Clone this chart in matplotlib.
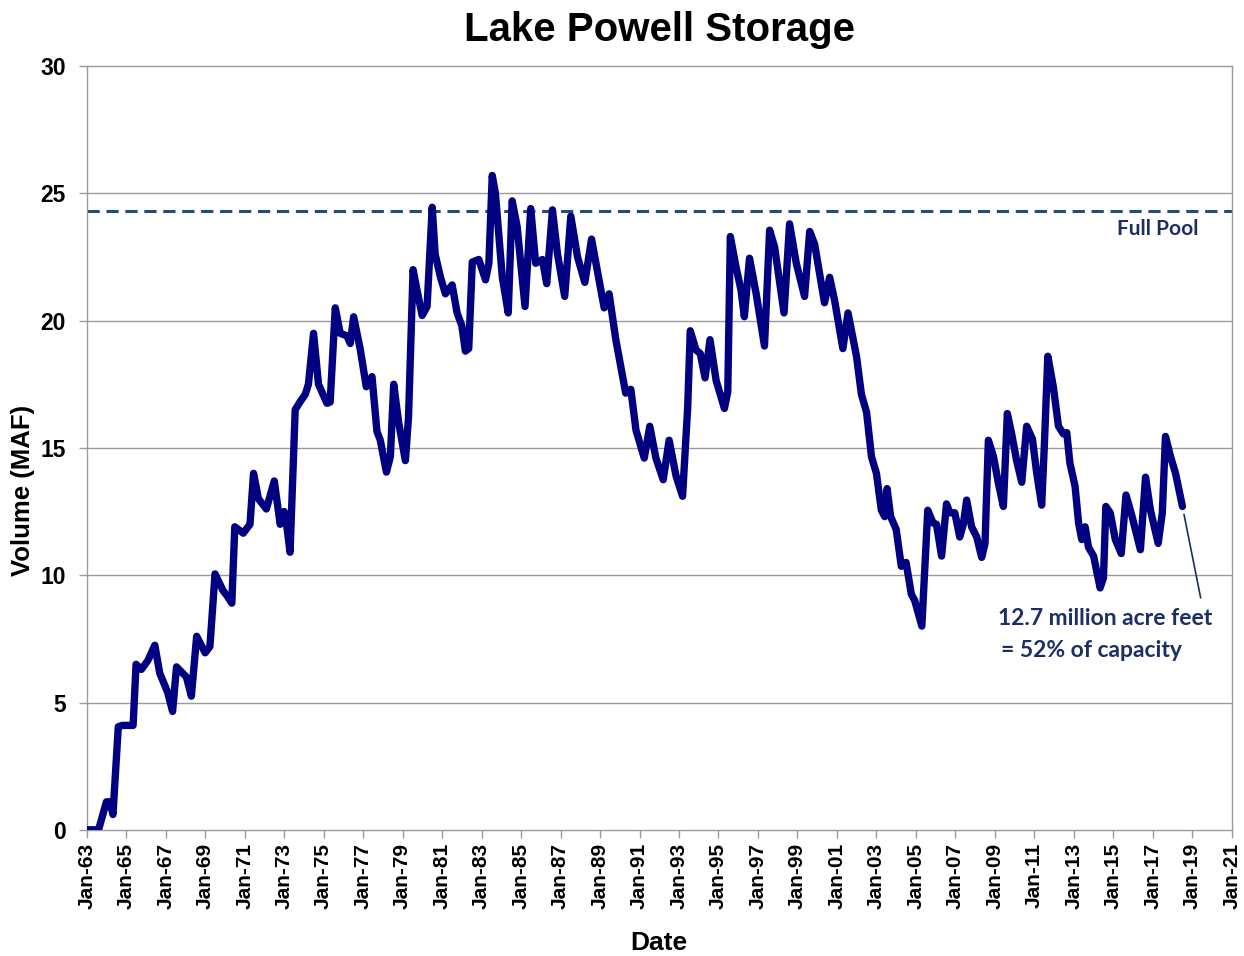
import matplotlib
matplotlib.use("Agg")
import matplotlib.pyplot as plt

# =====================================
# Data
# =====================================

years = [
    1963.0, 1963.6, 1964.0, 1964.17, 1964.33, 1964.6, 1964.8, 1965.35, 1965.5, 1965.77,
    1966.1, 1966.45, 1966.7, 1967.1, 1967.35, 1967.55, 1968.05, 1968.3, 1968.57, 1969.0,
    1969.24, 1969.5, 1969.9, 1970.1, 1970.35, 1970.5, 1970.93, 1971.27, 1971.45, 1971.7,
    1972.1, 1972.5, 1972.8, 1973.0, 1973.14, 1973.3, 1973.56, 1973.8, 1974.07, 1974.23,
    1974.49, 1974.74, 1975.17, 1975.33, 1975.59, 1975.84, 1976.18, 1976.35, 1976.52, 1976.86,
    1977.16, 1977.45, 1977.7, 1977.87, 1978.18, 1978.38, 1978.55, 1978.8, 1979.14, 1979.3,
    1979.53, 1979.73, 1979.99, 1980.24, 1980.5, 1980.65, 1980.92, 1981.17, 1981.51, 1981.76,
    1982.0, 1982.18, 1982.35, 1982.53, 1982.86, 1983.2, 1983.37, 1983.54, 1983.7, 1984.05,
    1984.35, 1984.55, 1984.8, 1985.2, 1985.49, 1985.74, 1986.08, 1986.3, 1986.59, 1986.84,
    1987.21, 1987.52, 1987.86, 1988.23, 1988.57, 1989.21, 1989.46, 1989.8, 1990.3, 1990.56,
    1990.82, 1991.24, 1991.52, 1991.83, 1992.2, 1992.5, 1992.85, 1993.18, 1993.44, 1993.57,
    1993.86, 1994.08, 1994.32, 1994.57, 1994.88, 1995.3, 1995.47, 1995.6, 1995.89, 1996.14,
    1996.31, 1996.57, 1996.91, 1997.33, 1997.59, 1997.84, 1998.32, 1998.6, 1998.94, 1999.36,
    1999.62, 1999.87, 2000.37, 2000.63, 2000.88, 2001.3, 2001.56, 2001.99, 2002.24, 2002.5,
    2002.75, 2003.0, 2003.25, 2003.42, 2003.54, 2003.72, 2004.0, 2004.26, 2004.5, 2004.77,
    2004.94, 2005.3, 2005.6, 2005.87, 2006.04, 2006.3, 2006.55, 2006.72, 2006.97, 2007.22,
    2007.4, 2007.57, 2007.82, 2008.08, 2008.33, 2008.5, 2008.67, 2008.93, 2009.18, 2009.43,
    2009.63, 2009.85, 2010.1, 2010.36, 2010.61, 2010.9, 2011.12, 2011.37, 2011.5, 2011.68,
    2011.96, 2012.22, 2012.47, 2012.64, 2012.8, 2013.06, 2013.24, 2013.4, 2013.57, 2013.74,
    2014.0, 2014.33, 2014.5, 2014.62, 2014.84, 2015.1, 2015.4, 2015.64, 2015.95, 2016.37,
    2016.63, 2016.88, 2017.27, 2017.48, 2017.64, 2017.9, 2018.15, 2018.5,
]

storage = [
    0.0, 0.0, 1.1, 1.1, 0.6, 4.05, 4.1, 4.1, 6.5, 6.3,
    6.65, 7.25, 6.15, 5.4, 4.65, 6.4, 6.0, 5.25, 7.6, 6.95,
    7.2, 10.05, 9.4, 9.2, 8.9, 11.9, 11.65, 12.0, 14.0, 13.0,
    12.6, 13.7, 12.0, 12.5, 11.9, 10.9, 16.5, 16.8, 17.1, 17.5,
    19.5, 17.5, 16.75, 16.8, 20.5, 19.5, 19.4, 19.1, 20.15, 18.85,
    17.4, 17.8, 15.65, 15.3, 14.05, 14.65, 17.5, 16.0, 14.5, 16.2,
    22.0, 21.2, 20.2, 20.55, 24.45, 22.6, 21.7, 21.05, 21.4, 20.3,
    19.8, 18.8, 18.9, 22.3, 22.4, 21.6, 22.25, 25.7, 25.0, 21.7,
    20.3, 24.7, 23.7, 20.55, 24.4, 22.25, 22.4, 21.45, 24.35, 22.65,
    20.95, 24.1, 22.5, 21.5, 23.2, 20.5, 21.05, 19.25, 17.15, 17.3,
    15.7, 14.6, 15.85, 14.6, 13.75, 15.3, 13.9, 13.1, 16.6, 19.6,
    18.85, 18.7, 17.75, 19.25, 17.65, 16.55, 17.2, 23.3, 22.1, 21.2,
    20.15, 22.45, 21.05, 19.0, 23.55, 22.9, 20.3, 23.8, 22.25, 20.95,
    23.5, 23.0, 20.7, 21.7, 20.8, 18.9, 20.3, 18.6, 17.1, 16.4,
    14.65, 14.0, 12.55, 12.3, 13.4, 12.3, 11.8, 10.35, 10.5, 9.25,
    9.0, 8.0, 12.55, 12.05, 12.0, 10.75, 12.8, 12.45, 12.45, 11.5,
    12.0, 12.95, 11.9, 11.5, 10.7, 11.25, 15.3, 14.65, 13.6, 12.7,
    16.35, 15.55, 14.5, 13.65, 15.85, 15.35, 14.0, 12.75, 15.0, 18.6,
    17.4, 15.85, 15.55, 15.6, 14.4, 13.5, 12.05, 11.4, 11.9, 11.1,
    10.75, 9.5, 9.9, 12.7, 12.45, 11.4, 10.85, 13.15, 12.3, 11.0,
    13.85, 12.55, 11.25, 12.45, 15.45, 14.65, 14.0, 12.7,
]

full_pool = 24.3
tick_years = list(range(1963, 2022, 2))
tick_labels = ["Jan-%02d" % (y % 100) for y in tick_years]

# =====================================
# Plot
# =====================================

navy = "#000080"
text_navy = "#1B2F66"
grid_gray = "#9A9A9A"

fig = plt.figure(figsize=(12.44, 9.56), dpi=100)
ax = fig.add_axes([0.0697, 0.132, 0.9205, 0.799])

for y in range(5, 30, 5):
    ax.axhline(y, color=grid_gray, linewidth=1.0, zorder=1)

ax.axhline(full_pool, color="#1F4E79", linewidth=2.2, linestyle=(0, (4, 2.2)), zorder=2)

ax.plot(years, storage, color=navy, linewidth=5.3, solid_joinstyle="round",
        solid_capstyle="round", zorder=3)

ax.set_xlim(1963, 2021)
ax.set_ylim(0, 30)

ax.set_xticks(tick_years)
ax.set_xticklabels(tick_labels, rotation=90, fontsize=15, fontweight="bold",
                   family="Liberation Sans")
ax.set_yticks(range(0, 31, 5))
ax.set_yticklabels([str(v) for v in range(0, 31, 5)], fontsize=16.5, fontweight="bold",
                   family="Liberation Sans")
ax.tick_params(axis="both", direction="out", length=6, color=grid_gray, width=1)
ax.tick_params(axis="y", pad=9)

for side in ["left", "right", "top", "bottom"]:
    ax.spines[side].set_color(grid_gray)
    ax.spines[side].set_linewidth(1.0)

ax.set_title("Lake Powell Storage", fontsize=29, fontweight="bold",
             family="Liberation Sans", pad=18)
ax.set_xlabel("Date", fontsize=19, fontweight="bold", family="Liberation Sans", labelpad=16)
ax.set_ylabel("Volume (MAF)", fontsize=18.5, fontweight="bold", family="Liberation Sans")
ax.yaxis.set_label_coords(-0.045, 0.444)

ax.text(2017.25, 23.6, "Full Pool", color=text_navy, fontsize=15, fontweight="bold",
        family="Lato", ha="center", va="center")

ax.annotate("", xy=(2018.55, 12.5), xytext=(2019.45, 9.0),
            arrowprops=dict(arrowstyle="-", color=text_navy, linewidth=1.2))
ax.text(2014.6, 8.3, "12.7 million acre feet", color=text_navy, fontsize=16.5,
        fontweight="bold", family="Lato", ha="center", va="center")
ax.text(2013.9, 7.05, "= 52% of capacity", color=text_navy, fontsize=16.5,
        fontweight="bold", family="Lato", ha="center", va="center")

fig.savefig("out.png", dpi=100)
